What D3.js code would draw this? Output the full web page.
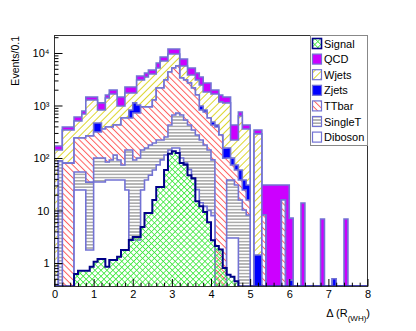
<!DOCTYPE html>
<html>
<head>
<meta charset="utf-8">
<script src="https://cdn.jsdelivr.net/npm/d3@7"></script>
<style>
body { margin: 0; background: #fff; }
svg text { font-family: "Liberation Sans", Arial, Helvetica, sans-serif; }
</style>
</head>
<body>
<svg id="c" width="416" height="331"></svg>
<script>
// 80 bins of 0.1 in Delta R(WH)
const nBins = 80, binW = 0.1;
const binLow = d3.range(nBins).map(i => +(i * binW).toFixed(1));

const signal = [0,0,0,0,0, 0.62,0.71,0.71,0.71,0.85, 1.06,1.19,1.19,0.85,1.14,
  1.14,1.32,1.77,1.77,2.74, 3.13,3.13,4.85,8.96,8.96, 15.8,28,28,59,120,
  135,125,80,74,47, 41,15,12,9.4,6.0, 2.7,2.1,1.8,0.8,0.6, 0.55,0.45,0,0,0,
  0,0,0,0,0, 0,0,0,0,0, 0,0,0,0,0, 0,0,0,0,0, 0,0,0,0,0, 0,0,0,0,0];

const qcd = [27,27,48,48,48, 97,97,96,180,180, 180,300,300,195,310,
  310,470,470,520,520, 520,590,590,670,770, 770,1270,1350,1350,2350,
  2350,2350,2040,2040,1370, 1370,1100,1030,870,870, 310,310,415,330,330,
  205,205,121,68,68, 0,54,54,22.4,30.6, 30.6,30.6,30.6,14.8,30.6,
  6.7,0,0,13.9,0, 0,0,0,6.9,0, 0,0,0,0,6.9, 0,0,0,0,0];

const wjets = [142,54,261,261,261, 267,267,449,1008,1008, 806,356,463,1001,1271,
  1235,555,402,1152,910, 610,2040,2120,2550,3040, 2710,3030,4890,3980,5220,
  4390,3920,2310,2590,1130, 1660,1475,1480,990,1232, 1175,1235,896,965,965,
  120,146,572,319,326, 0,286,286,0,0, 0,0,0,0,0,
  0,0,0,0,0, 0,0,0,0,0, 0,0,0,0,0, 0,0,0,0,0];

const zjets = [0,0,0,0,0, 0,0,0,0,0, 151,151,0,0,0,
  0,0,0,0,242, 400,300,0,0,0, 0,0,0,0,0,
  0,0,0,0,0, 0,0,160,68,0, 60,36,0,55,55,
  26,14.6,21,13.5,14.8, 0,1.42,1.42,0,0, 0,0,0,0,0,
  0.47,0,0,0,0, 0,0,0,0,0, 0,0.5,0,0,0, 0,0,0,0,0];

const ttbar = [0,0,80,80,80, 186,186,186,227,227, 213,213,257,305,297,
  311,333,504,436,436, 628,620,798,785,763, 1077,1930,1930,2810,3925,
  4520,4930,2680,2530,2255, 1810,1311,600,575,436, 333,389,274,99,62,
  35.5,28.4,22.3,14.4,7.6, 0,0,0,8.2,0, 0,0,0,15.8,0,
  0,0,0,0,0, 0,0,0,0,0, 0,0,0,0,0, 0,0,0,0,0];

const singleT = [0,88,0,0,0, 29.5,29.5,29.5,33,33, 65,65,65,46,53.5,
  76,53.5,35.5,117,139, 89,97,117,117,130, 134,146,128,137,283,
  504,565,559,450,365, 301,249,206,165,132, 84,0,0,0,35,
  35,27.6,15.8,10.2,8.2, 0,0,0,0,0, 0,0,0,0,0,
  0,0,0,0,0, 0,0,0,0,0, 0,0,0,0,0, 0,0,0,0,0];

const diboson = [0,0,0,0,0, 24.6,24.6,24.6,1.77,1.77, 34.9,34.9,34.9,38,38,
  38,38,38,24.6,2.74, 2.74,2.74,24.6,38,47, 59,74,92,114,142,
  155,155,100,80,60, 40,25,14,12,10, 8,0,0,0,3,
  3,3,0,0,0, 0,0,0,0,0, 0,0,0,0,0,
  0,0,0,0,0, 0,0,0,0,0, 0,0,0,0,0, 0,0,0,0,0];

const xTicks = [0,1,2,3,4,5,6,7,8];
const yTicks = [1,10,100,1000,10000];
const yTickLabels = ["1","10","10²","10³","10⁴"];
const legendNames = ["Signal","QCD","Wjets","Zjets","TTbar","SingleT","Diboson"];

var fr = {left: 54.5, right: 367.5, top: 35.5, bottom: 286.5};
var yMin = 0.3567, yMax = 21540;

var x = d3.scaleLinear().domain([0, 8]).range([fr.left, fr.right]);
var y = d3.scaleLog().domain([yMin, yMax]).range([fr.bottom, fr.top]);

var svg = d3.select('#c');
var defs = svg.append('defs');
defs.append('clipPath').attr('id','clip').append('rect')
    .attr('x', fr.left).attr('y', fr.top)
    .attr('width', fr.right - fr.left).attr('height', fr.bottom - fr.top);

function hatch(id, size, angle, dirs, color, sw) {
    var p = defs.append('pattern').attr('id', id)
        .attr('patternUnits', 'userSpaceOnUse')
        .attr('width', size).attr('height', size)
        .attr('patternTransform', 'rotate(' + angle + ')');
    if (dirs.indexOf('v') >= 0)
        p.append('line').attr('x1', size/2).attr('x2', size/2).attr('y1', 0).attr('y2', size)
            .attr('stroke', color).attr('stroke-width', sw);
    if (dirs.indexOf('h') >= 0)
        p.append('line').attr('y1', size/2).attr('y2', size/2).attr('x1', 0).attr('x2', size)
            .attr('stroke', color).attr('stroke-width', sw);
}
hatch('pW', 5, 45, 'v', '#dcd630', 1);
hatch('pT', 4.5, -45, 'v', '#ff5c5c', 1);
hatch('pS', 3.2, 0, 'h', '#7a7a7a', 1);
hatch('pSig', 4.2, 45, 'vh', '#3ee83e', 0.8);

// stack: bottom -> top
var layers = [
    {name: 'Diboson', vals: diboson, fill: '#ffffff', hatched: false},
    {name: 'SingleT', vals: singleT, fill: 'url(#pS)', hatched: true},
    {name: 'TTbar',   vals: ttbar,   fill: 'url(#pT)', hatched: true},
    {name: 'Zjets',   vals: zjets,   fill: '#0000ff', hatched: false},
    {name: 'Wjets',   vals: wjets,   fill: 'url(#pW)', hatched: true},
    {name: 'QCD',     vals: qcd,     fill: '#cc00ff', hatched: false}
];
var run = d3.range(nBins).map(() => 0);
layers.forEach(function(l) {
    run = run.map((r, i) => r + l.vals[i]);
    l.cum = run.slice();
});

var edgeColor = '#7272d4';

function histPath(vals) {
    var pts = [[x(0), fr.bottom]];
    vals.forEach(function(v, i) {
        var yy = v > yMin ? y(v) : fr.bottom;
        pts.push([x(binLow[i]), yy], [x(binLow[i] + binW), yy]);
    });
    pts.push([x(8), fr.bottom]);
    return d3.line()(pts);
}

var plot = svg.append('g').attr('clip-path', 'url(#clip)');

// ROOT THStack style: largest sum first, each one painted from the bottom
layers.slice().reverse().forEach(function(l) {
    var d = histPath(l.cum);
    if (l.hatched) plot.append('path').attr('d', d).attr('fill', '#fff');
    plot.append('path').attr('d', d).attr('fill', l.fill)
        .attr('stroke', edgeColor).attr('stroke-width', 1.6);
});

// signal on top, not stacked
plot.append('path').attr('d', histPath(signal))
    .attr('fill', 'url(#pSig)')
    .attr('stroke', '#000088').attr('stroke-width', 2);

// frame
svg.append('rect')
    .attr('x', fr.left).attr('y', fr.top)
    .attr('width', fr.right - fr.left).attr('height', fr.bottom - fr.top)
    .attr('fill', 'none').attr('stroke', '#333').attr('stroke-width', 1);

// x axis
var xMinor = d3.range(0, 8.001, 0.2).filter(v => Math.abs(v - Math.round(v)) > 1e-6);
var gx = svg.append('g').attr('transform', 'translate(0,' + fr.bottom + ')');
gx.call(d3.axisBottom(x).tickValues(xTicks).tickFormat(d3.format('d'))
    .tickSize(-7.5).tickPadding(4));
gx.append('g').call(d3.axisBottom(x).tickValues(xMinor).tickFormat('').tickSize(-3.8));
gx.selectAll('.domain').remove();
gx.selectAll('text').attr('font-size', 11).attr('font-family', null).attr('fill', '#000');
gx.selectAll('line').attr('stroke', '#000');

// y axis (log)
var yMinor = [];
[-1,0,1,2,3,4].forEach(function(e) {
    for (var k = 2; k <= 9; k++) {
        var v = k * Math.pow(10, e);
        if (v > yMin && v < yMax) yMinor.push(v);
    }
});
var gy = svg.append('g').attr('transform', 'translate(' + fr.left + ',0)');
gy.call(d3.axisLeft(y).tickValues(yTicks)
    .tickFormat((d, i) => yTickLabels[i]).tickSize(-8).tickPadding(5));
gy.append('g').call(d3.axisLeft(y).tickValues(yMinor).tickFormat('').tickSize(-4));
gy.selectAll('.domain').remove();
gy.selectAll('text').attr('font-size', 11).attr('font-family', null).attr('fill', '#000');
gy.selectAll('line').attr('stroke', '#000');

// axis titles
svg.append('text')
    .attr('transform', 'translate(19,36) rotate(-90)')
    .attr('text-anchor', 'end').attr('font-size', 10.5)
    .text('Events/0.1');

var xt = svg.append('text').attr('x', 370).attr('y', 317)
    .attr('text-anchor', 'end').attr('font-size', 11);
xt.append('tspan').text('Δ (R');
xt.append('tspan').attr('font-size', 8).attr('dy', 4).text('(WH)');
xt.append('tspan').attr('dy', -4).text(')');

// legend
var lg = svg.append('g');
lg.append('rect').attr('x', 310.5).attr('y', 35.5).attr('width', 57).attr('height', 110)
    .attr('fill', '#fff').attr('stroke', '#888').attr('stroke-width', 1);
var legStyle = {
    Signal:  {fill: 'url(#pSig)', stroke: '#000088', hatched: true},
    QCD:     {fill: '#cc00ff', stroke: edgeColor},
    Wjets:   {fill: 'url(#pW)', stroke: edgeColor, hatched: true},
    Zjets:   {fill: '#0000ff', stroke: edgeColor},
    TTbar:   {fill: 'url(#pT)', stroke: edgeColor, hatched: true},
    SingleT: {fill: 'url(#pS)', stroke: edgeColor, hatched: true},
    Diboson: {fill: '#ffffff', stroke: edgeColor}
};
legendNames.forEach(function(n, i) {
    var cy = 43.5 + i * 15.6;
    var s = legStyle[n];
    if (s.hatched) lg.append('rect').attr('x', 312.5).attr('y', cy - 5).attr('width', 9).attr('height', 10).attr('fill', '#fff');
    lg.append('rect').attr('x', 312.5).attr('y', cy - 5).attr('width', 9).attr('height', 10)
        .attr('fill', s.fill).attr('stroke', s.stroke).attr('stroke-width', n === 'Signal' ? 1.6 : 1.2);
    lg.append('text').attr('x', 324).attr('y', cy + 4).attr('font-size', 11).text(n);
});
</script>
</body>
</html>
